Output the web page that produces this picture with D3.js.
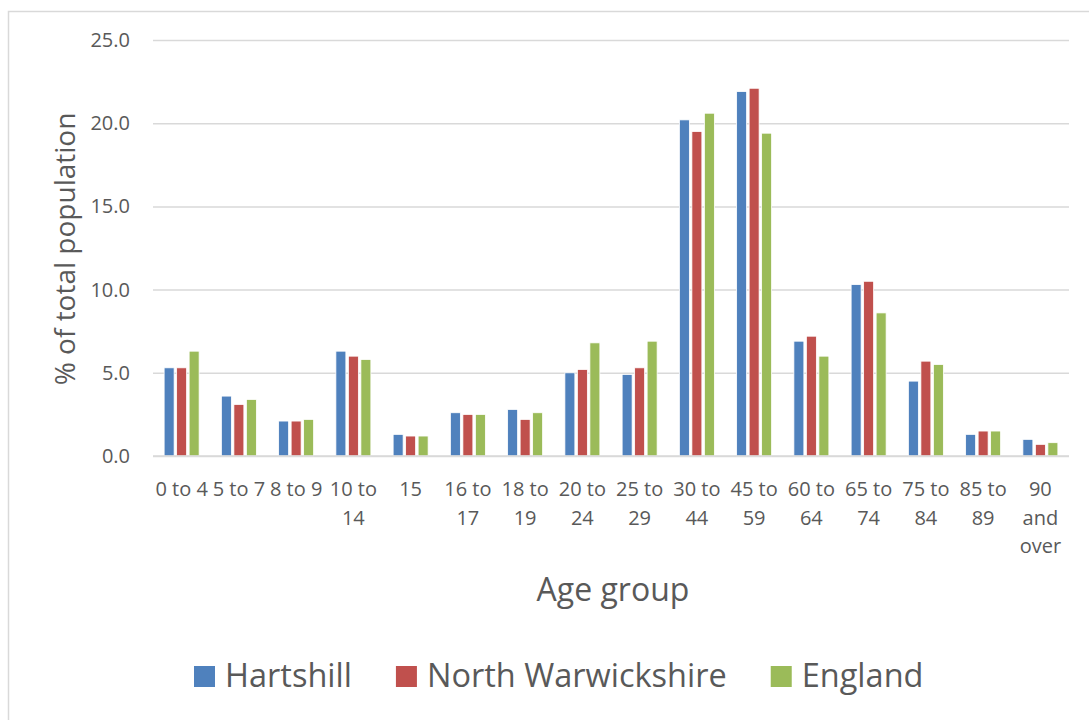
<!DOCTYPE html>
<html lang="en">
<head>
<meta charset="UTF-8">
<title>Age groups</title>
<script src="https://cdn.jsdelivr.net/npm/d3@7"></script>
<style>
  body { margin: 0; background: #fff; }
  svg { display: block; font-family: "Open Sans", sans-serif; }
</style>
</head>
<body>
<svg id="chart" width="1089" height="720"></svg>
<script>
// data
const ageGroups = ["0 to 4", "5 to 7", "8 to 9", "10 to 14", "15", "16 to 17", "18 to 19",
  "20 to 24", "25 to 29", "30 to 44", "45 to 59", "60 to 64", "65 to 74", "75 to 84",
  "85 to 89", "90 and over"];
const seriesNames = ["Hartshill", "North Warwickshire", "England"];
const hartshill = [5.3, 3.6, 2.1, 6.3, 1.3, 2.6, 2.8, 5.0, 4.9, 20.2, 21.9, 6.9, 10.3, 4.5, 1.3, 1.0];
const northWarwickshire = [5.3, 3.1, 2.1, 6.0, 1.2, 2.5, 2.2, 5.2, 5.3, 19.5, 22.1, 7.2, 10.5, 5.7, 1.5, 0.7];
const england = [6.3, 3.4, 2.2, 5.8, 1.2, 2.5, 2.6, 6.8, 6.9, 20.6, 19.4, 6.0, 8.6, 5.5, 1.5, 0.8];
const yTicks = [0, 5, 10, 15, 20, 25];
const colors = ["#4F81BD", "#C0504D", "#9BBB59"];

const seriesValues = [hartshill, northWarwickshire, england];
const rows = ageGroups.map((g, i) => ({
  group: g,
  vals: seriesNames.map((s, j) => ({ key: s, value: seriesValues[j][i] }))
}));

const svg = d3.select("#chart");
const textColor = "#595959";
const gridColor = "#d9d9d9";

// chart border
svg.append("rect")
  .attr("x", 8.5).attr("y", 11.5)
  .attr("width", 1200).attr("height", 800)
  .attr("fill", "none").attr("stroke", gridColor).attr("stroke-width", 1.5);

const plotLeft = 153, plotRight = 1069, plotTop = 40, plotBottom = 456;

const x0 = d3.scaleBand().domain(ageGroups).range([plotLeft, plotRight]).padding(0);
const inset = (x0.bandwidth() - 35) / 2;
const x1 = d3.scaleBand().domain(seriesNames)
  .range([inset, x0.bandwidth() - inset]).paddingInner(0.2);
const y = d3.scaleLinear().domain([0, 25]).range([plotBottom, plotTop]);
const color = d3.scaleOrdinal().domain(seriesNames).range(colors);

// gridlines + y labels
const yAxis = svg.append("g")
  .attr("transform", "translate(" + plotLeft + ",0)")
  .call(d3.axisLeft(y).tickValues(yTicks).tickFormat(d3.format(".1f"))
    .tickSize(-(plotRight - plotLeft)).tickPadding(23));
yAxis.select(".domain").remove();
yAxis.selectAll(".tick line").attr("stroke", gridColor).attr("stroke-width", 1.5);
yAxis.selectAll(".tick text")
  .attr("fill", textColor)
  .style("font-size", "20px")
  .style("font-family", "'Open Sans', sans-serif");

// bars
const groups = svg.selectAll(".grp")
  .data(rows)
  .enter()
  .append("g")
  .attr("class", "grp")
  .attr("transform", d => "translate(" + x0(d.group) + ",0)");

groups.selectAll("rect")
  .data(d => d.vals)
  .enter()
  .append("rect")
  .attr("x", d => x1(d.key))
  .attr("y", d => y(d.value))
  .attr("width", x1.bandwidth())
  .attr("height", d => y(0) - y(d.value))
  .attr("fill", d => color(d.key))
  .attr("stroke", "#fff")
  .attr("stroke-width", 0.8);

// baseline over the bars
svg.append("line")
  .attr("x1", plotLeft).attr("x2", plotRight)
  .attr("y1", y(0)).attr("y2", y(0))
  .attr("stroke", gridColor).attr("stroke-width", 1.5);

// x labels with word wrap
const xAxis = svg.append("g")
  .attr("transform", "translate(0," + plotBottom + ")")
  .call(d3.axisBottom(x0).tickSize(0).tickPadding(0));
xAxis.select(".domain").remove();
xAxis.selectAll(".tick text")
  .attr("fill", textColor)
  .attr("y", 0).attr("dy", null)
  .style("font-size", "20px")
  .style("font-family", "'Open Sans', sans-serif")
  .each(function(d) { wrap(d3.select(this), 57); });

function wrap(text, maxW) {
  const words = text.text().split(" ");
  text.text(null);
  let lines = [], line = [];
  const probe = text.append("tspan");
  words.forEach(w => {
    line.push(w);
    probe.text(line.join(" "));
    if (probe.node().getComputedTextLength() > maxW && line.length > 1) {
      line.pop();
      lines.push(line.join(" "));
      line = [w];
    }
  });
  lines.push(line.join(" "));
  probe.remove();
  lines.forEach((l, i) => {
    text.append("tspan")
      .attr("x", 0)
      .attr("y", 40 + i * 28.5)
      .text(l);
  });
}

// axis titles
svg.append("text")
  .attr("transform", "translate(75,249) rotate(-90)")
  .attr("text-anchor", "middle")
  .attr("fill", textColor)
  .style("font-size", "28px")
  .text("% of total population");

svg.append("text")
  .attr("x", 613).attr("y", 601)
  .attr("text-anchor", "middle")
  .attr("fill", textColor)
  .style("font-size", "32px")
  .text("Age group");

// legend
const legend = svg.append("g");
let lx = 194;
seriesNames.forEach((s, i) => {
  const item = legend.append("g").attr("transform", "translate(" + lx + ",666)");
  item.append("rect")
    .attr("width", 21).attr("height", 21)
    .attr("fill", color(s));
  const t = item.append("text")
    .attr("x", 31).attr("y", 21)
    .attr("fill", textColor)
    .style("font-size", "32.5px")
    .text(s);
  lx += 31 + t.node().getComputedTextLength() + 44;
});
</script>
</body>
</html>
